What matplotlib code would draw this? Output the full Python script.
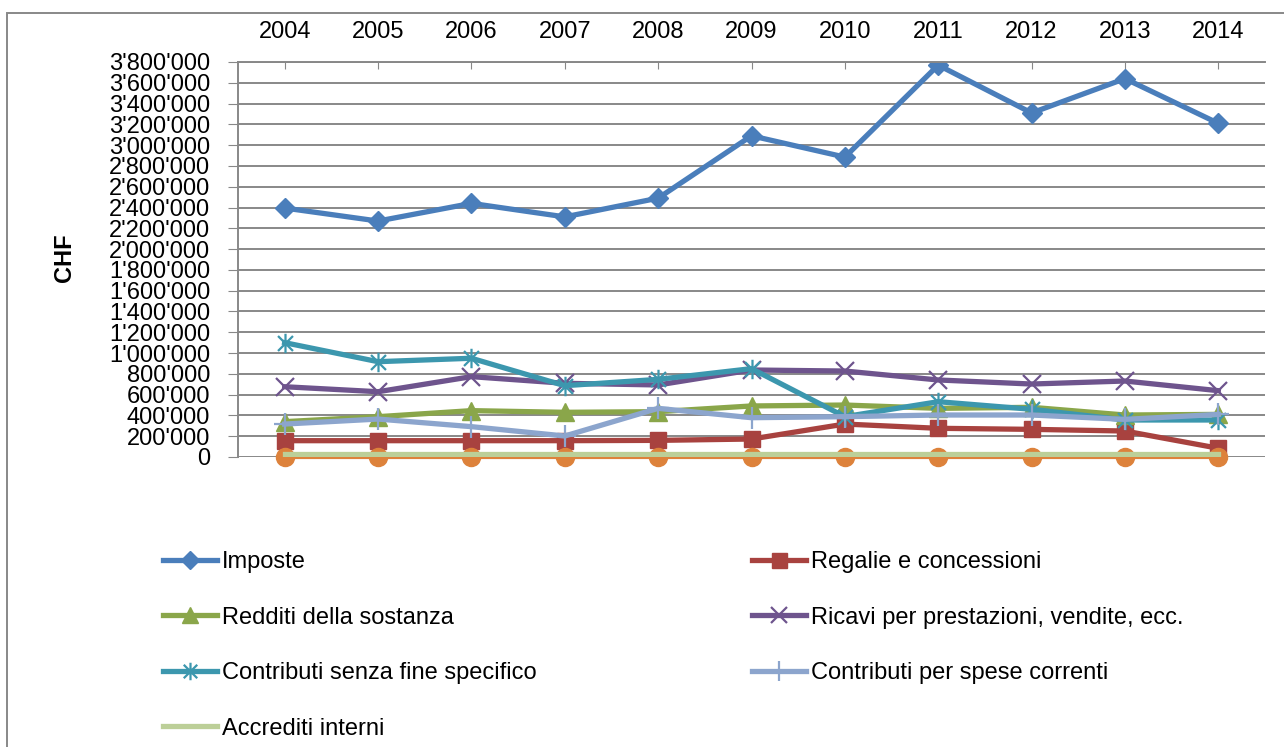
import matplotlib.pyplot as plt
import numpy as np
from matplotlib.path import Path
from matplotlib.patches import Rectangle
from matplotlib.ticker import FuncFormatter, MultipleLocator

plt.rcParams['font.family'] = ['Liberation Sans', 'DejaVu Sans']

anni = ['2004', '2005', '2006', '2007', '2008', '2009', '2010', '2011', '2012', '2013', '2014']

imposte = [2395000, 2270000, 2440000, 2310000, 2490000, 3090000, 2885000, 3770000, 3310000, 3640000, 3210000]
regalie = [157000, 157000, 157000, 157000, 160000, 173000, 317000, 276000, 266000, 250000, 84000]
redditi = [340000, 388000, 446000, 430000, 436000, 491000, 500000, 468000, 478000, 404000, 410000]
ricavi = [676000, 628000, 773000, 709000, 693000, 837000, 827000, 741000, 702000, 731000, 638000]
contrib_senza = [1100000, 917000, 950000, 686000, 747000, 850000, 388000, 532000, 459000, 356000, 356000]
contrib_spese = [317000, 365000, 292000, 202000, 468000, 378000, 388000, 404000, 404000, 362000, 410000]
accrediti = [28000, 28000, 28000, 28000, 28000, 28000, 28000, 28000, 28000, 28000, 28000]
altro = [0, 0, 0, 0, 0, 0, 0, 0, 0, 0, 0]

# marcatore "asterisco" tipo Excel: x piu' barra verticale
asterisco = Path([(-1, -1), (1, 1), (-1, 1), (1, -1), (0, -1.3), (0, 1.3)],
                 [Path.MOVETO, Path.LINETO, Path.MOVETO, Path.LINETO, Path.MOVETO, Path.LINETO])

fig = plt.figure(figsize=(12.84, 7.47), dpi=100)
ax = fig.add_axes([238 / 1284, 1 - 457 / 747, (1265 - 238) / 1284, (457 - 62) / 747])

x = np.arange(len(anni))
lw = 3.8
h_imp, = ax.plot(x, imposte, color='#4A7EBB', lw=lw, marker='D', ms=10, label='Imposte')
h_reg, = ax.plot(x, regalie, color='#A8423F', lw=lw, marker='s', ms=12, label='Regalie e concessioni')
h_red, = ax.plot(x, redditi, color='#8AA64A', lw=lw, marker='^', ms=13, label='Redditi della sostanza')
h_ric, = ax.plot(x, ricavi, color='#6E548D', lw=lw, marker='x', ms=13, mew=1.6, label='Ricavi per prestazioni, vendite, ecc.')
h_cse, = ax.plot(x, contrib_senza, color='#3C97AE', lw=lw, marker=asterisco, ms=14, mew=1.6,
                 label='Contributi senza fine specifico')
h_csp, = ax.plot(x, contrib_spese, color='#8CA5CD', lw=lw, marker='+', ms=16, mew=1.6,
                 label='Contributi per spese correnti')
ax.plot(x, altro, color='#DD823B', lw=3, marker='o', ms=13, label='_nolegend_', clip_on=False)
h_acc, = ax.plot(x, accrediti, color='#BCCF98', lw=lw, label='Accrediti interni')

ax.set_xlim(-0.5, len(anni) - 0.5)
ax.set_ylim(0, 3800000)
ax.yaxis.set_major_locator(MultipleLocator(200000))
ax.yaxis.set_major_formatter(FuncFormatter(lambda v, p: f"{v:,.0f}".replace(',', "'")))
ax.grid(axis='y', color='#888888', lw=1.4)
ax.set_axisbelow(True)

ax.xaxis.tick_top()
ax.set_xticks(x)
ax.set_xticklabels(anni)
ax.tick_params(axis='x', direction='in', length=5, color='#888888', labelsize=17, pad=14)
ax.tick_params(axis='y', direction='out', length=7, color='#888888', labelsize=17, pad=13)
for s in ['right', 'bottom']:
    ax.spines[s].set_visible(False)
for s in ['left', 'top']:
    ax.spines[s].set_color('#888888')
    ax.spines[s].set_linewidth(1.4)

fig.text(65 / 1284, 1 - 258 / 747, 'CHF', rotation=90, fontsize=17, fontweight='bold',
         ha='center', va='center')

handles = [h_imp, h_red, h_cse, h_acc, h_reg, h_ric, h_csp]
fig.legend(handles=handles, labels=[h.get_label() for h in handles], ncol=2, frameon=False,
           loc='upper left', bbox_to_anchor=(163 / 1284, 1 - 551 / 747), borderpad=0,
           borderaxespad=0, fontsize=17, handlelength=2.3, handletextpad=0.2,
           labelspacing=1.42, columnspacing=9.1, markerscale=0.9)

fig.patches.append(Rectangle((7 / 1284, -0.05), 1.1, 1 - 13 / 747 + 0.05, transform=fig.transFigure,
                             fill=False, edgecolor='#888888', lw=1.4))

fig.savefig('out.png', dpi=100)
